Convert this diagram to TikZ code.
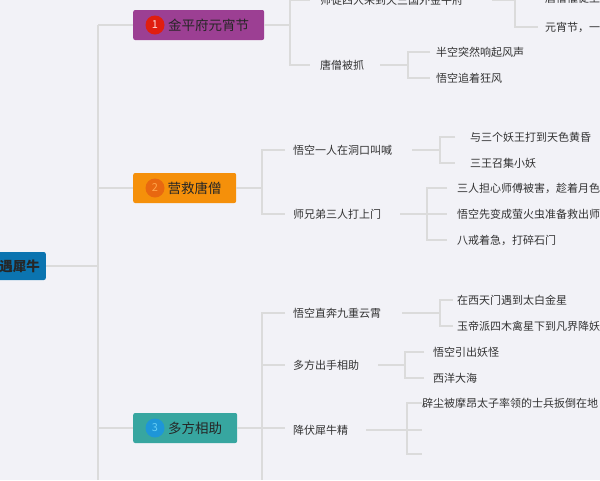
\documentclass[tikz,border=0pt]{standalone}
\usepackage{fontspec}
\setmainfont{Noto Sans CJK SC}
\begin{document}
\begin{tikzpicture}[x=1pt,y=-1pt,
 ln/.style={draw=black!14,line width=1.2pt},
 tx/.style={anchor=west,inner sep=0pt,font=\fontsize{11}{13}\selectfont,text=black!80},
 bx/.style={anchor=west,rounded corners=2pt,minimum height=30pt,inner xsep=6pt,font=\fontsize{13.5}{15}\selectfont,text=black!85},
 num/.style={circle,inner sep=0pt,minimum size=19pt,font=\fontsize{11}{12}\selectfont}]
\useasboundingbox (0,0) rectangle (600,480);
\clip (0,0) rectangle (600,480);
\fill[color={rgb,255:red,242;green,242;blue,247}] (0,0) rectangle (600,480);
% root
\node[bx,fill={rgb,255:red,11;green,116;blue,176},anchor=east,minimum height=28pt,font=\bfseries\fontsize{13.5}{15}\selectfont] (root) at (46,266) {三遇犀牛};
% trunk
\coordinate (t0) at (98,25); \coordinate (t1) at (98,480);
\draw[ln] (root.east) -- (98,266);
\draw[ln] (t0) -- (t1);
% branch boxes
\node[bx,fill={rgb,255:red,156;green,63;blue,147},minimum width=131pt] (b1) at (133,25) {\hspace{20pt}金平府元宵节};
\node[num,fill={rgb,255:red,224;green,30;blue,16},text=white!85!red] (n1) at (155,25) {1};
\node[bx,fill={rgb,255:red,245;green,144;blue,10},minimum width=103pt] (b2) at (133,188) {\hspace{20pt}营救唐僧};
\node[num,fill={rgb,255:red,232;green,104;blue,16},text=orange!70] (n2) at (155,188) {2};
\node[bx,fill={rgb,255:red,55;green,166;blue,160},minimum width=104pt] (b3) at (133,428) {\hspace{20pt}多方相助};
\node[num,fill={rgb,255:red,30;green,150;blue,216},text=cyan!60] (n3) at (155,428) {3};
\draw[ln] (98,25) -- (b1.west);
\draw[ln] (98,188) -- (b2.west);
\draw[ln] (98,428) -- (b3.west);
% branch 1
\node[tx] (a1) at (320,0) {师徒四人来到天竺国外金平府};
\node[tx] (a2) at (320,65) {唐僧被抓};
\draw[ln] (b1.east) -- (290,25);
\draw[ln] (290,-5) -- (290,65) -- (310,65);
\draw[ln] (290,0) -- (310,0);
\draw[ln] (492,0) -- (515,0);
\draw[ln] (515,-10) -- (515,27) -- (538,27);
\node[tx] (a11) at (545,-2) {唐僧催促上路};
\node[tx] (a12) at (545,27) {元宵节，一起看灯};
\draw[ln] (380,65) -- (408,65);
\draw[ln] (430,52) -- (408,52) -- (408,78) -- (430,78);
\node[tx] (a21) at (436,52) {半空突然响起风声};
\node[tx] (a22) at (436,78) {悟空追着狂风};
% branch 2
\draw[ln] (b2.east) -- (262,188);
\draw[ln] (285,150) -- (262,150) -- (262,214) -- (285,214);
\node[tx] (c1) at (293,150) {悟空一人在洞口叫喊};
\node[tx] (c2) at (293,214) {师兄弟三人打上门};
\draw[ln] (412,150) -- (440,150);
\draw[ln] (455,137) -- (440,137) -- (440,163) -- (455,163);
\node[tx] (c11) at (470,137) {与三个妖王打到天色黄昏};
\node[tx] (c12) at (470,163) {三王召集小妖};
\draw[ln] (400,214) -- (427,214);
\draw[ln] (447,188) -- (427,188) -- (427,240) -- (447,240);
\draw[ln] (427,214) -- (447,214);
\node[tx] (c21) at (457,188) {三人担心师傅被害，趁着月色};
\node[tx] (c22) at (457,214) {悟空先变成萤火虫准备救出师父};
\node[tx] (c23) at (457,240) {八戒着急，打碎石门};
% branch 3
\draw[ln] (b3.east) -- (285,428);
\draw[ln] (285,313) -- (262,313) -- (262,480);
\draw[ln] (262,365) -- (285,365);
\node[tx] (d1) at (293,313) {悟空直奔九重云霄};
\node[tx] (d2) at (293,365) {多方出手相助};
\node[tx] (d3) at (293,430) {降伏犀牛精};
\draw[ln] (402,313) -- (440,313);
\draw[ln] (453,300) -- (440,300) -- (440,326) -- (453,326);
\node[tx] (d11) at (457,300) {在西天门遇到太白金星};
\node[tx] (d12) at (457,326) {玉帝派四木禽星下到凡界降妖};
\draw[ln] (378,365) -- (405,365);
\draw[ln] (424,352) -- (405,352) -- (405,378) -- (424,378);
\node[tx] (d21) at (433,352) {悟空引出妖怪};
\node[tx] (d22) at (433,378) {西洋大海};
\draw[ln] (366,430) -- (422,430);
\draw[ln] (422,403) -- (407,403) -- (407,454) -- (422,454);
\node[tx] (d31) at (422,403) {辟尘被摩昂太子率领的士兵扳倒在地};
\end{tikzpicture}
\end{document}
